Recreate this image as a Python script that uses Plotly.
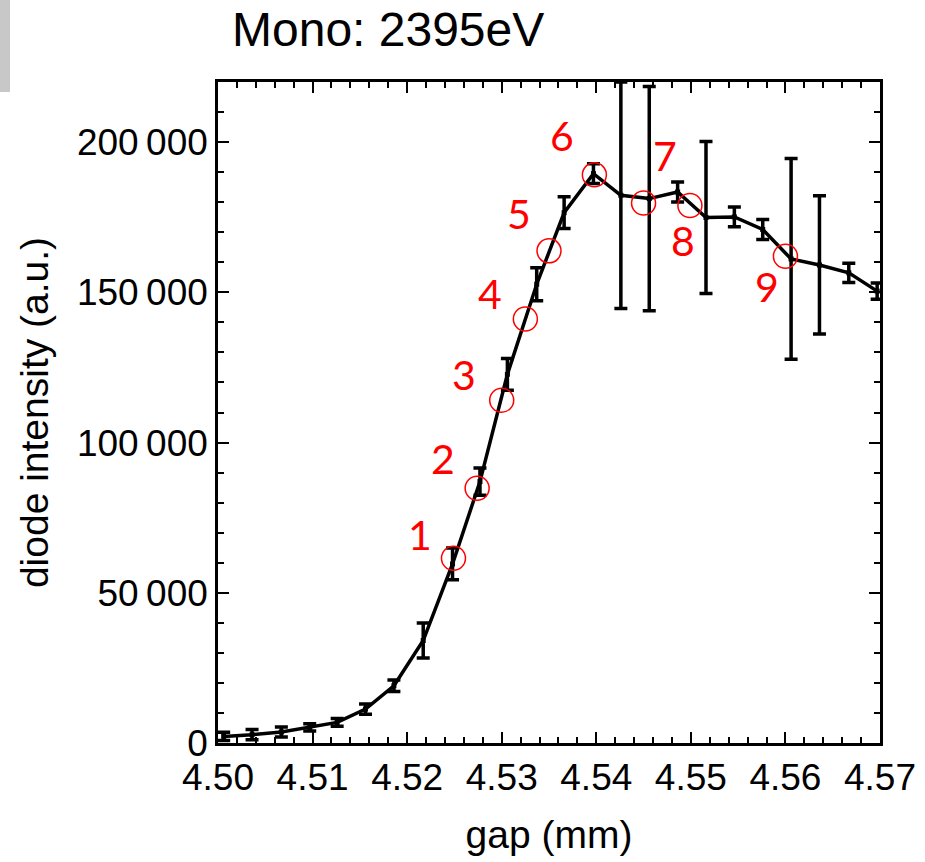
import plotly.graph_objects as go

# ---- data ----
gap_mm = [4.5006, 4.5036, 4.5067, 4.5097, 4.5126, 4.5156, 4.5186, 4.5217,
          4.5248, 4.5277, 4.5306, 4.5337, 4.5366, 4.5397, 4.5426, 4.5456,
          4.5486, 4.5516, 4.5546, 4.5576, 4.5606, 4.5636, 4.5667, 4.5697]
intensity = [2200, 2760, 3660, 5190, 6850, 11300, 19050, 34100,
             59600, 87000, 122700, 152700, 176500, 189500, 182300, 181200,
             183400, 174900, 175100, 170900, 161100, 159100, 156500, 150400]
intensity_err = [1400, 1700, 1700, 1200, 1300, 1700, 1900, 5800,
                 5300, 4500, 5300, 5500, 5300, 3300, 37700, 37300,
                 3300, 25300, 3300, 3300, 33400, 23000, 3200, 2700]

circle_gap = [4.5249, 4.5274, 4.5300, 4.5325, 4.5350, 4.5398, 4.5450, 4.5499, 4.5600]
circle_int = [61500, 84800, 114100, 141100, 163800, 189100, 179700, 178900, 162000]

label_text = ["1", "2", "3", "4", "5", "6", "7", "8", "9"]
label_gap = [4.5214, 4.5238, 4.5260, 4.5288, 4.5318, 4.5364, 4.5473, 4.5492, 4.5581]
label_int = [69300, 94800, 122500, 149600, 176200, 202300, 195600, 167400, 151900]

y_tickvals = [0, 50000, 100000, 150000, 200000]
y_ticktext = ["0", "50\u2009000", "100\u2009000", "150\u2009000", "200\u2009000"]
x_tickvals = [4.50, 4.51, 4.52, 4.53, 4.54, 4.55, 4.56, 4.57]
x_ticktext = ["4.50", "4.51", "4.52", "4.53", "4.54", "4.55", "4.56", "4.57"]

W, H = 925, 862
ML, MR, MT, MB = 218, 45, 82, 119
PW, PH = W - ML - MR, H - MT - MB

def px_x(p):
    return (p - ML) / PW

def px_y(p):
    return (H - MB - p) / PH

SANS = "Liberation Sans, Arial, sans-serif"
TICKFONT = dict(family=SANS, size=37, color="black")

fig = go.Figure()
fig.add_trace(go.Scatter(
    x=gap_mm, y=intensity,
    mode="lines+markers",
    line=dict(color="black", width=3.5),
    marker=dict(symbol="square", size=5, color="black"),
    error_y=dict(type="data", array=intensity_err, visible=True,
                 color="black", thickness=3.5, width=6.5),
    showlegend=False,
))
fig.add_trace(go.Scatter(
    x=circle_gap, y=circle_int, mode="markers",
    marker=dict(symbol="circle-open", size=24, color="#ff0000",
                line=dict(color="#ff0000", width=1.5)),
    showlegend=False,
))

for t, gx, gy in zip(label_text, label_gap, label_int):
    fig.add_annotation(x=gx, y=gy, text=t, showarrow=False,
                       xanchor="center", yanchor="middle",
                       font=dict(family="Lato, Open Sans, sans-serif", size=41, color="#ff0000"))

fig.add_annotation(xref="paper", yref="paper", x=px_x(230), y=px_y(30),
                   text="Mono: 2395eV", showarrow=False,
                   xanchor="left", yanchor="middle",
                   font=dict(family=SANS, size=48, color="black"))

fig.add_shape(type="rect", xref="paper", yref="paper",
              x0=px_x(0), x1=px_x(10), y0=px_y(92), y1=px_y(0),
              fillcolor="#c8c8c8", line=dict(width=0), layer="below")

fig.update_xaxes(
    range=[4.50, 4.57], tickvals=x_tickvals, ticktext=x_ticktext,
    ticks="inside", ticklen=11, tickwidth=2, tickcolor="black",
    minor=dict(dtick=0.002, ticks="inside", ticklen=6, tickwidth=2, tickcolor="black"),
    showline=True, linecolor="black", linewidth=2.5, mirror="ticks",
    showgrid=False, zeroline=False, tickfont=TICKFONT, ticklabelstandoff=0,
    title=dict(text="gap (mm)", font=dict(family=SANS, size=39, color="black"),
               standoff=24),
)
fig.update_yaxes(
    range=[0, 220000], tickvals=y_tickvals, ticktext=y_ticktext,
    ticks="inside", ticklen=11, tickwidth=2, tickcolor="black",
    minor=dict(dtick=10000, ticks="inside", ticklen=6, tickwidth=2, tickcolor="black"),
    showline=True, linecolor="black", linewidth=2.5, mirror="ticks",
    showgrid=False, zeroline=False, tickfont=TICKFONT, ticklabelstandoff=0,
    title=dict(text="diode intensity (a.u.)", font=dict(family=SANS, size=39, color="black"),
               standoff=17),
)
fig.update_layout(
    width=W, height=H,
    margin=dict(l=ML, r=MR, t=MT, b=MB, autoexpand=False),
    plot_bgcolor="white", paper_bgcolor="white",
)
fig.write_html("out.html", config={"displayModeBar": False},
               post_script="document.body.style.margin='0px';document.body.style.overflow='hidden';")
